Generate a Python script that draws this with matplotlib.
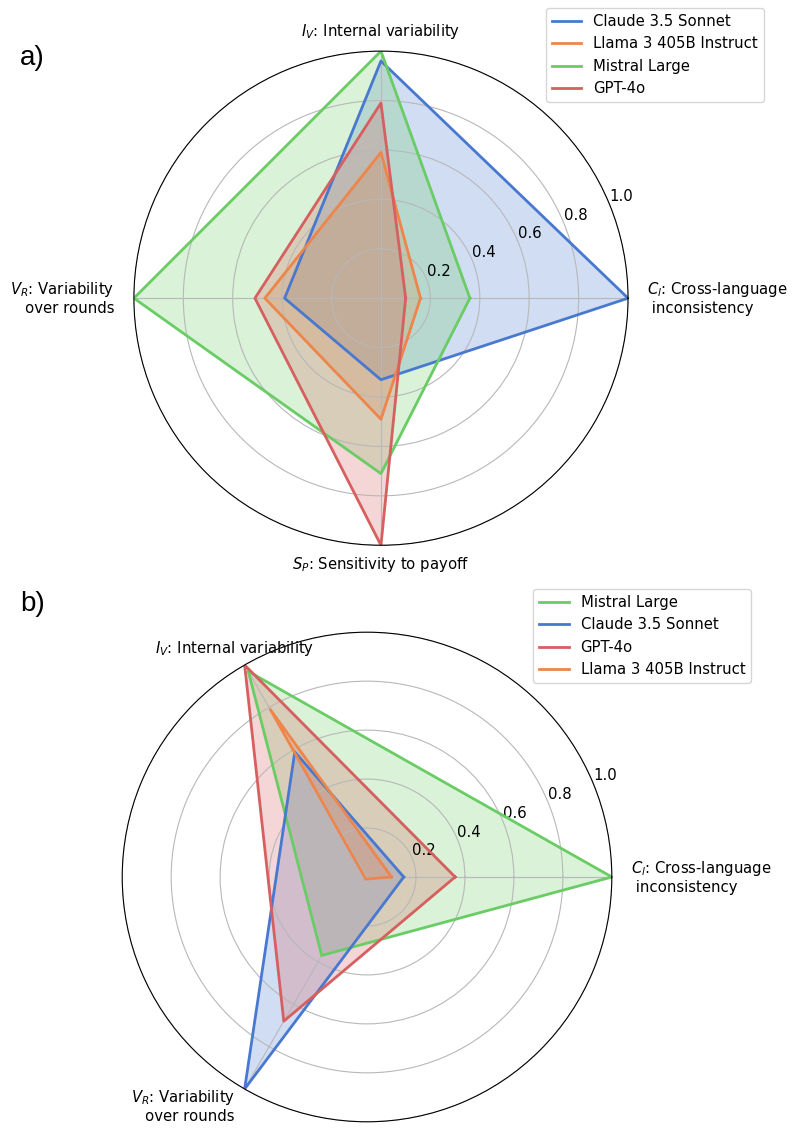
import numpy as np
import matplotlib
matplotlib.use("Agg")
import matplotlib.pyplot as plt

# ---- data ----
models_a = ["Claude 3.5 Sonnet", "Llama 3 405B Instruct", "Mistral Large", "GPT-4o"]
axes_a = ["$C_l$: Cross-language\n inconsistency", "$I_V$: Internal variability",
          "$V_R$: Variability\nover rounds", "$S_P$: Sensitivity to payoff"]
claude_a = [1.00, 0.96, 0.39, 0.33]
llama_a = [0.16, 0.59, 0.47, 0.49]
mistral_a = [0.36, 1.00, 1.00, 0.71]
gpt_a = [0.10, 0.79, 0.51, 1.00]

models_b = ["Mistral Large", "Claude 3.5 Sonnet", "GPT-4o", "Llama 3 405B Instruct"]
axes_b = ["$C_l$: Cross-language\n inconsistency", "$I_V$: Internal variability",
          "$V_R$: Variability\nover rounds"]
mistral_b = [1.00, 0.97, 0.37]
claude_b = [0.15, 0.59, 1.00]
gpt_b = [0.36, 1.00, 0.68]
llama_b = [0.10, 0.79, 0.01]

rticks = [0.2, 0.4, 0.6, 0.8, 1.0]
colors = {"Claude 3.5 Sonnet": "#4878d0", "Llama 3 405B Instruct": "#ee854a",
          "Mistral Large": "#6acc64", "GPT-4o": "#d65f5f"}

FS = 10.7
fig = plt.figure(figsize=(7.97, 11.36), dpi=100)


def radar(rect, labels, aligns, models, series, legend_anchor):
    ax = fig.add_axes(rect, projection="polar")
    n = len(labels)
    theta = np.arange(n) * 2 * np.pi / n
    for name, vals in zip(models, series):
        t = np.concatenate([theta, theta[:1]])
        v = np.concatenate([vals, vals[:1]])
        ax.plot(t, v, color=colors[name], linewidth=2, label=name)
        ax.fill(t, v, color=colors[name], alpha=0.25)
    ax.set_ylim(0, 1)
    ax.set_yticks(rticks)
    ax.set_yticklabels([f"{r:.1f}" for r in rticks], fontsize=FS)
    ax.set_xticks(theta)
    ax.set_xticklabels(labels, fontsize=FS)
    for lab, ha in zip(ax.get_xticklabels(), aligns):
        lab.set_horizontalalignment(ha)
    ax.grid(color="#b8b8b8", linewidth=0.8)
    ax.spines["polar"].set_color("black")
    fig.legend(*ax.get_legend_handles_labels(), loc="upper right",
               bbox_to_anchor=legend_anchor, fontsize=FS)
    return ax


radar([0.168, 0.520, 0.620, 0.435], axes_a, ["left", "center", "right", "center"],
      models_a, [claude_a, llama_a, mistral_a, gpt_a], (0.968, 0.9995))
radar([0.153, 0.0125, 0.615, 0.431], axes_b, ["left", "center", "right"],
      models_b, [mistral_b, claude_b, gpt_b, llama_b], (0.952, 0.488))

fig.text(0.025, 0.949, "a)", fontsize=20, family="Liberation Sans", ha="left", va="center")
fig.text(0.025, 0.468, "b)", fontsize=20, family="Liberation Sans", ha="left", va="center")

fig.savefig("out.png", dpi=100)
